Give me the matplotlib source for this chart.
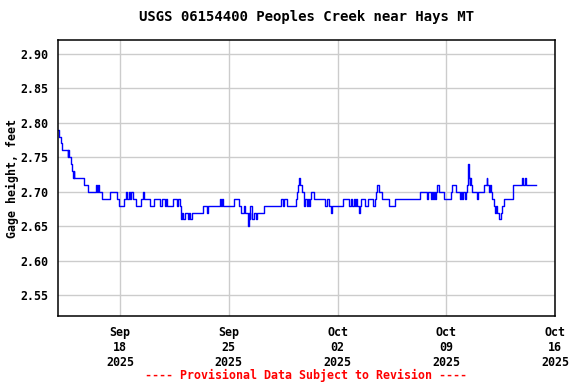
import numpy as np
import pandas as pd
import matplotlib
matplotlib.use("Agg")
import matplotlib.pyplot as plt
import matplotlib.dates as mdates

# fechas: dias desde el 14 sep 2025 (lecturas aproximadas del grafico)
start = pd.Timestamp("2025-09-14")
days = [0.00, 0.06, 0.19, 0.28, 0.62, 0.66, 0.71, 0.83, 0.90, 0.95, 1.00, 1.05,
        1.20, 1.69, 1.95, 2.42, 2.50, 2.55, 2.65, 2.84, 3.36, 3.81, 3.94, 4.26,
        4.37, 4.45, 4.55, 4.65, 4.70, 4.84, 5.01, 5.33, 5.48, 5.54, 5.93, 6.15,
        6.57, 6.70, 6.87, 6.95, 7.05, 7.40, 7.66, 7.72, 7.83, 7.90, 7.94, 8.00,
        8.08, 8.15, 8.22, 8.37, 8.45, 8.52, 8.60, 9.33, 9.59, 9.65, 10.40, 10.50,
        10.55, 10.62, 11.32, 11.64, 11.80, 11.96, 12.07, 12.22, 12.28, 12.33, 12.38, 12.48,
        12.59, 12.72, 12.80, 13.29, 14.37, 14.47, 14.58, 14.73, 15.33, 15.39, 15.48, 15.54,
        15.61, 15.72, 15.82, 15.86, 15.93, 16.01, 16.12, 16.18, 16.24, 16.31, 16.51, 17.21,
        17.29, 17.42, 17.58, 17.64, 18.32, 18.75, 18.86, 18.96, 19.05, 19.12, 19.20, 19.28,
        19.39, 19.45, 19.50, 19.78, 19.93, 20.31, 20.42, 20.47, 20.57, 20.64, 20.89, 21.28,
        21.71, 23.29, 23.78, 23.84, 24.00, 24.08, 24.14, 24.22, 24.28, 24.32, 24.42, 24.53,
        24.85, 25.28, 25.39, 25.61, 25.86, 25.95, 26.02, 26.10, 26.18, 26.25, 26.35, 26.41,
        26.46, 26.50, 26.53, 26.57, 26.63, 26.99, 27.03, 27.42, 27.59, 27.63, 27.74, 27.80,
        27.85, 27.96, 28.07, 28.13, 28.21, 28.28, 28.39, 28.50, 28.60, 28.71, 29.29, 29.88,
        29.94, 30.10, 30.16, 30.78]
gage = [2.79, 2.78, 2.77, 2.76, 2.75, 2.76, 2.75, 2.74, 2.73, 2.72, 2.73, 2.72,
        2.72, 2.71, 2.70, 2.71, 2.70, 2.71, 2.70, 2.69, 2.70, 2.69, 2.68, 2.69,
        2.70, 2.69, 2.70, 2.69, 2.70, 2.69, 2.68, 2.69, 2.70, 2.69, 2.68, 2.69,
        2.68, 2.69, 2.68, 2.69, 2.68, 2.69, 2.68, 2.69, 2.68, 2.67, 2.66, 2.67,
        2.66, 2.67, 2.67, 2.66, 2.67, 2.66, 2.67, 2.68, 2.67, 2.68, 2.69, 2.68,
        2.69, 2.68, 2.69, 2.68, 2.67, 2.68, 2.67, 2.65, 2.67, 2.66, 2.68, 2.66,
        2.67, 2.66, 2.67, 2.68, 2.69, 2.68, 2.69, 2.68, 2.69, 2.70, 2.71, 2.72,
        2.71, 2.70, 2.69, 2.68, 2.69, 2.68, 2.69, 2.68, 2.69, 2.70, 2.69, 2.68,
        2.69, 2.68, 2.67, 2.68, 2.69, 2.68, 2.69, 2.68, 2.69, 2.68, 2.69, 2.68,
        2.67, 2.68, 2.69, 2.68, 2.69, 2.68, 2.69, 2.70, 2.71, 2.70, 2.69, 2.68,
        2.69, 2.70, 2.69, 2.70, 2.69, 2.70, 2.69, 2.70, 2.69, 2.70, 2.71, 2.70,
        2.69, 2.70, 2.71, 2.70, 2.69, 2.70, 2.69, 2.70, 2.69, 2.70, 2.71, 2.74,
        2.72, 2.71, 2.72, 2.71, 2.70, 2.69, 2.70, 2.71, 2.72, 2.71, 2.70, 2.71,
        2.70, 2.69, 2.68, 2.67, 2.68, 2.67, 2.66, 2.67, 2.68, 2.69, 2.71, 2.72,
        2.71, 2.72, 2.71, 2.71]

yticks = [2.55, 2.60, 2.65, 2.70, 2.75, 2.80, 2.85, 2.90]
xticks = ["2025-09-18", "2025-09-25", "2025-10-02", "2025-10-09", "2025-10-16"]

t = start + pd.to_timedelta(days, unit="D")

plt.rcParams['font.family'] = 'DejaVu Sans Mono'
plt.rcParams['font.weight'] = 'bold'
plt.rcParams['font.size'] = 8.4

fig = plt.figure(figsize=(5.76, 3.84), dpi=100)
ax = fig.add_axes([58/576, 68/384, 497/576, 276/384])

ax.step(t, gage, where='post', color='#0000ff', lw=1)

ax.set_xlim(start, pd.Timestamp("2025-10-16"))
ax.set_ylim(2.52, 2.92)
ax.set_yticks(yticks)
ax.set_yticklabels([f"{v:.2f}" for v in yticks])
ax.set_xticks(pd.to_datetime(xticks))
ax.xaxis.set_major_formatter(mdates.DateFormatter("%b\n%d\n%Y"))
ax.grid(True, color='#cccccc', lw=1)
ax.set_axisbelow(True)
ax.tick_params(length=0, pad=7)
for s in ax.spines.values():
    s.set_linewidth(1.1)

ax.set_ylabel("Gage height, feet", fontweight='bold')
ax.yaxis.set_label_coords(-39/497, 0.5)
ax.set_title("USGS 06154400 Peoples Creek near Hays MT", pad=14, fontweight='bold')
fig.text(306/576, 1 - 375/384, "---- Provisional Data Subject to Revision ----",
         color='red', ha='center', va='center', fontweight='bold')

fig.savefig("out.png", dpi=100)
